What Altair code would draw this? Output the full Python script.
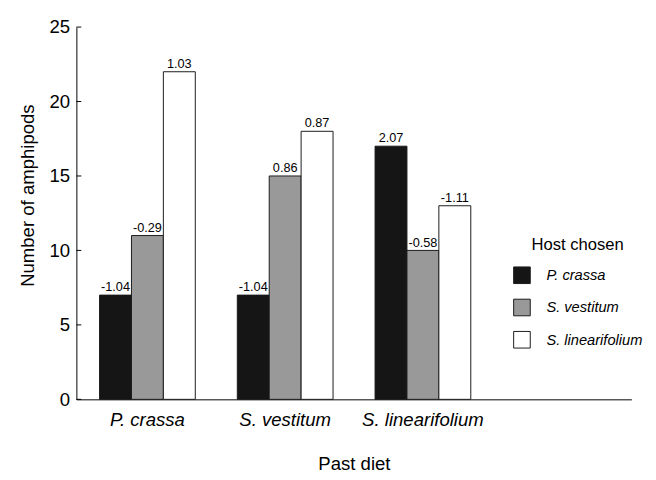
import altair as alt
import pandas as pd

past_diet = ["P. crassa", "S. vestitum", "S. linearifolium"]
host_chosen = ["P. crassa", "S. vestitum", "S. linearifolium"]
count_p_crassa_diet = [7, 11, 22]
count_s_vestitum_diet = [7, 15, 18]
count_s_linearifolium_diet = [17, 10, 13]
label_p_crassa_diet = ["-1.04", "-0.29", "1.03"]
label_s_vestitum_diet = ["-1.04", "0.86", "0.87"]
label_s_linearifolium_diet = ["2.07", "-0.58", "-1.11"]
host_colors = ["#151515", "#999999", "#ffffff"]
y_ticks = [0, 5, 10, 15, 20, 25]

rows = []
for d, counts, labels in zip(
    past_diet,
    [count_p_crassa_diet, count_s_vestitum_diet, count_s_linearifolium_diet],
    [label_p_crassa_diet, label_s_vestitum_diet, label_s_linearifolium_diet],
):
    for h, c, l in zip(host_chosen, counts, labels):
        rows.append({"diet": d, "host": h, "count": c, "label": l})
df = pd.DataFrame(rows)
tick_df = pd.DataFrame({"count": y_ticks})

FONT = "Liberation Sans"

x_enc = alt.X(
    "diet:N",
    sort=past_diet,
    scale=alt.Scale(paddingInner=0.305, paddingOuter=0.667, align=0.126),
    axis=alt.Axis(
        title="Past diet",
        labelAngle=0,
        labelFontStyle="italic",
        labelFontSize=19,
        titleFontSize=19,
        ticks=False,
        labelPadding=12,
        titlePadding=26,
    ),
)
xo_enc = alt.XOffset(
    "host:N", sort=host_chosen, scale=alt.Scale(paddingInner=0, paddingOuter=0)
)
y_enc = alt.Y(
    "count:Q",
    scale=alt.Scale(domain=[0, 25], nice=False),
    axis=alt.Axis(
        title="Number of amphipods",
        values=y_ticks,
        grid=False,
        ticks=False,
        labelPadding=7,
        labelFontSize=19,
        titleFontSize=19,
        titlePadding=12,
        titleY=172,
    ),
)

bars = alt.Chart(df).mark_bar(stroke="#1a1a1a", strokeWidth=1).encode(
    x=x_enc,
    xOffset=xo_enc,
    y=y_enc,
    fill=alt.Fill(
        "host:N",
        sort=host_chosen,
        scale=alt.Scale(domain=host_chosen, range=host_colors),
        legend=alt.Legend(
            title="Host chosen",
            orient="none",
            legendX=447,
            legendY=215,
            titleFontSize=17,
            titleFontWeight="normal",
            titleAnchor="middle",
            titlePadding=13,
            labelFontSize=15,
            labelFontStyle="italic",
            symbolType="square",
            symbolSize=289,
            symbolStrokeColor="#1a1a1a",
            symbolStrokeWidth=1,
            rowPadding=11,
            labelOffset=16,
        ),
    ),
)

texts = alt.Chart(df).mark_text(
    baseline="alphabetic", dy=-4, fontSize=13, font=FONT, color="black"
).encode(x=x_enc, xOffset=xo_enc, y=y_enc, text="label:N")

ticks = alt.Chart(tick_df).mark_rule(color="black", strokeWidth=1).encode(
    y=alt.Y("count:Q"), x=alt.value(0), x2=alt.value(5)
)

chart = (
    alt.layer(bars, texts, ticks)
    .properties(width=568, height=381, padding={"left": 10, "top": 5, "right": 5, "bottom": 0})
    .configure_view(stroke=None)
    .configure_axis(
        labelFont=FONT,
        titleFont=FONT,
        labelColor="black",
        titleColor="black",
        titleFontWeight="normal",
        domainColor="black",
        domainWidth=1,
    )
    .configure_legend(labelFont=FONT, titleFont=FONT, labelColor="black", titleColor="black")
)

chart.save("out.html", embed_options={"renderer": "svg", "actions": False})
